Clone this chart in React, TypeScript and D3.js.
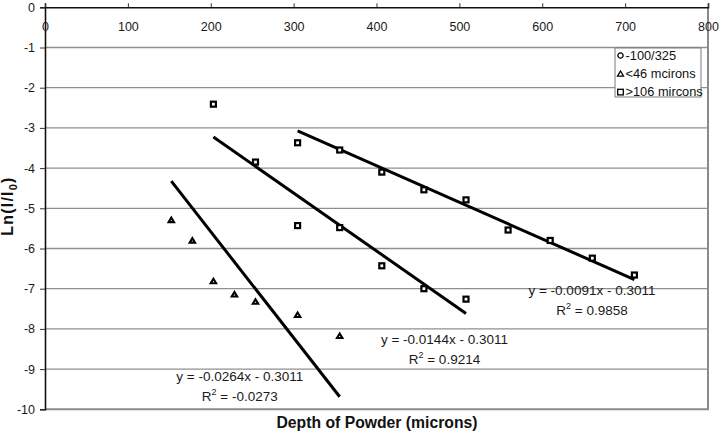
import React, { useEffect, useRef } from 'react';
import * as d3 from 'd3';

// depth of powder (microns) and Ln(I/I0)
const fineDepth = [152.4, 177.8, 203.2, 228.6, 254, 304.8, 355.6];
const fineLn = [-5.29, -5.8, -6.81, -7.14, -7.32, -7.65, -8.17];

const midDepth = [203.2, 254, 304.8, 355.6, 406.4, 457.2, 508];
const midLn = [-2.41, -3.85, -5.43, -5.48, -6.43, -7.0, -7.26];

const coarseDepth = [304.8, 355.6, 406.4, 457.2, 508, 558.8, 609.6, 660.4, 711.2];
const coarseLn = [-3.37, -3.55, -4.1, -4.54, -4.79, -5.54, -5.8, -6.24, -6.66];

const legendLabels = ['-100/325', '<46 mcirons', '>106 mircons'];
const slopes = [-0.0264, -0.0144, -0.0091];
const intercept = -0.3011;
const rSquared = ['-0.0273', '0.9214', '0.9858'];
// where each equation label sits, in data units (x, y of first line)
const eqAnchorX = [235, 482, 660];
const eqAnchorY = [-9.3, -8.37, -7.16];

const xTicks = [0, 100, 200, 300, 400, 500, 600, 700, 800];
const yTicks = [0, -1, -2, -3, -4, -5, -6, -7, -8, -9, -10];

const Chart = () => {
    const svgRef = useRef(null);

    useEffect(() => {
        const svg = d3.select(svgRef.current);
        const width = 721;
        const height = 435;
        const left = 45;
        const right = 708;
        const top = 7.3;
        const bottom = 409.3;
        const font = '"Liberation Sans", Arial, sans-serif';

        svg.attr('width', width).attr('height', height).selectAll('*').remove();

        const x = d3.scaleLinear().domain([0, 800]).range([left, right]);
        const y = d3.scaleLinear().domain([-10, 0]).range([bottom, top]);

        // horizontal grid lines
        svg.append('g')
            .selectAll('line')
            .data(yTicks.filter(d => d !== 0 && d !== -10))
            .enter()
            .append('line')
            .attr('x1', left)
            .attr('x2', right)
            .attr('y1', d => y(d))
            .attr('y2', d => y(d))
            .attr('stroke', '#8f8f8f')
            .attr('stroke-width', 1.3);

        // right and bottom frame
        svg.append('path')
            .attr('d', `M${left},${bottom}H${right}V${top}`)
            .attr('fill', 'none')
            .attr('stroke', '#8a8a8a')
            .attr('stroke-width', 2);

        // left axis
        const yAxis = svg.append('g')
            .attr('transform', `translate(${left},0)`)
            .call(d3.axisLeft(y).tickValues(yTicks).tickSize(5).tickPadding(5).tickFormat(d3.format('d')));
        yAxis.select('.domain').attr('stroke', '#111').attr('stroke-width', 1.6);
        yAxis.selectAll('.tick line').attr('stroke', '#333').attr('stroke-width', 1);
        yAxis.selectAll('text')
            .attr('font-family', font)
            .attr('font-size', 12.5)
            .attr('fill', '#1a1a1a')
            .text(d => (d as number).toString().replace('−', '-'));

        // top axis with labels hanging inside the plot
        const xAxis = svg.append('g')
            .attr('transform', `translate(0,${top})`)
            .call(d3.axisTop(x).tickValues(xTicks).tickSize(4).tickFormat(d3.format('d')));
        xAxis.select('.domain').attr('stroke', '#111').attr('stroke-width', 1.6);
        xAxis.selectAll('.tick line').attr('stroke', '#333').attr('stroke-width', 1);
        xAxis.selectAll('text')
            .attr('y', 24)
            .attr('dy', 0)
            .attr('font-family', font)
            .attr('font-size', 12.5)
            .attr('fill', '#1a1a1a');

        // trend lines
        const series = [fineDepth, midDepth, coarseDepth];
        const line = d3.line<number[]>().x(d => x(d[0])).y(d => y(d[1]));
        series.forEach((xs, i) => {
            const ext = d3.extent(xs) as [number, number];
            const pts = ext.map(v => [v, slopes[i] * v + intercept]);
            svg.append('path')
                .attr('d', line(pts))
                .attr('fill', 'none')
                .attr('stroke', '#000')
                .attr('stroke-width', 3);
        });

        // markers
        const squares = svg.append('g');
        [[midDepth, midLn], [coarseDepth, coarseLn]].forEach(([xs, ys]) => {
            squares.selectAll(null)
                .data(xs.map((v, j) => [v, ys[j]]))
                .enter()
                .append('rect')
                .attr('x', d => x(d[0]) - 2.5)
                .attr('y', d => y(d[1]) - 2.5)
                .attr('width', 5)
                .attr('height', 5)
                .attr('fill', '#fff')
                .attr('stroke', '#000')
                .attr('stroke-width', 2.2);
        });

        svg.append('g')
            .selectAll('path')
            .data(fineDepth.map((v, j) => [v, fineLn[j]]))
            .enter()
            .append('path')
            .attr('transform', d => `translate(${x(d[0])},${y(d[1])})`)
            .attr('d', 'M-2.7,2.2L2.7,2.2L0,-2.3Z')
            .attr('fill', '#fff')
            .attr('stroke', '#000')
            .attr('stroke-width', 2.1)
            .attr('stroke-linejoin', 'miter');

        // equation labels
        slopes.forEach((s, i) => {
            const cx = x(eqAnchorX[i]);
            const cy = y(eqAnchorY[i]);
            svg.append('text')
                .attr('x', cx)
                .attr('y', cy)
                .attr('text-anchor', 'middle')
                .attr('font-family', font)
                .attr('font-size', 13.5)
                .attr('fill', '#1a1a1a')
                .text(`y = ${s.toFixed(4)}x - ${Math.abs(intercept).toFixed(4)}`);
            const r = svg.append('text')
                .attr('x', cx)
                .attr('y', cy + 20)
                .attr('text-anchor', 'middle')
                .attr('font-family', font)
                .attr('font-size', 13.5)
                .attr('fill', '#1a1a1a');
            r.append('tspan').text('R');
            r.append('tspan').attr('font-size', 9).attr('dy', -6).text('2');
            r.append('tspan').attr('dy', 6).text(` = ${rSquared[i]}`);
        });

        // legend
        const lg = svg.append('g').attr('transform', 'translate(615,48)');
        lg.append('rect')
            .attr('width', 86)
            .attr('height', 49)
            .attr('fill', '#fff')
            .attr('stroke', '#7a7a7a')
            .attr('stroke-width', 1);
        legendLabels.forEach((label, i) => {
            const ty = 11.5 + i * 18.3;
            const g = lg.append('g').attr('transform', `translate(5.5,${ty - 4})`);
            if (i === 0) {
                g.append('circle').attr('r', 2.6).attr('fill', 'none').attr('stroke', '#000').attr('stroke-width', 1.3);
            } else if (i === 1) {
                g.append('path').attr('d', 'M-3,2.4L3,2.4L0,-2.8Z').attr('fill', 'none').attr('stroke', '#000').attr('stroke-width', 1.3);
            } else {
                g.append('rect').attr('x', -2.8).attr('y', -2.8).attr('width', 5.6).attr('height', 5.6)
                    .attr('fill', 'none').attr('stroke', '#000').attr('stroke-width', 1.3);
            }
            lg.append('text')
                .attr('x', 10.5)
                .attr('y', ty)
                .attr('font-family', font)
                .attr('font-size', 12.8)
                .attr('fill', '#111')
                .text(label);
        });

        // axis titles
        svg.append('text')
            .attr('x', 377)
            .attr('y', 428)
            .attr('text-anchor', 'middle')
            .attr('font-family', font)
            .attr('font-weight', 'bold')
            .attr('font-size', 16)
            .attr('fill', '#111')
            .attr('textLength', 201)
            .attr('lengthAdjust', 'spacingAndGlyphs')
            .text('Depth of Powder (microns)');

        const yt = svg.append('text')
            .attr('transform', 'translate(12.5,206) rotate(-90)')
            .attr('text-anchor', 'middle')
            .attr('font-family', font)
            .attr('font-weight', 'bold')
            .attr('font-size', 16)
            .attr('letter-spacing', 1.2)
            .attr('fill', '#111');
        yt.append('tspan').text('Ln(I/I');
        yt.append('tspan').attr('font-size', 11).attr('dy', 4).text('0');
        yt.append('tspan').attr('dy', -4).text(')');
    }, []);

    return <svg ref={svgRef} style={{ position: 'absolute', left: 0, top: 0, display: 'block', background: '#fff' }}></svg>;
};

export default function App() {
    return <Chart />;
}
